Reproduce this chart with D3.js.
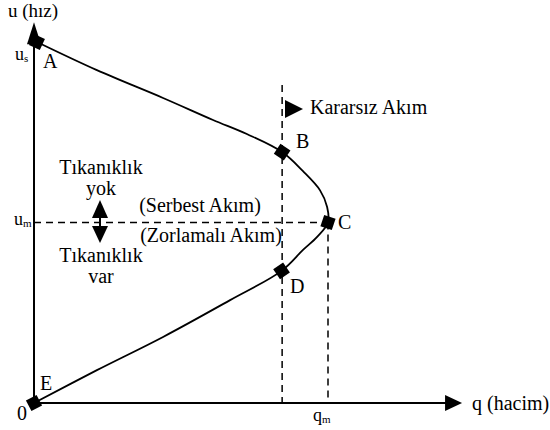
<!DOCTYPE html>
<html><head><meta charset="utf-8">
<script src="https://cdn.jsdelivr.net/npm/d3@7"></script>
<style>body{margin:0;background:#fff}svg{display:block}</style>
</head><body>
<script>
// q (hacim) vs u (hız) curve points (q_m = 100, u_s = 100)
const curveQ = [1, 21.4, 43.9, 60.9, 72.4, 84.4, 91.5, 97.3, 99.7, 100, 96.3, 91.5, 84.2, 66.7, 43.9, 21.4, 0];
const curveU = [100, 92.2, 84.5, 78.4, 74.5, 69.5, 64.2, 58.9, 54.3, 50, 46.0, 42.4, 36.6, 28.5, 18.3, 9.1, 0];
// marked points: index into the curve arrays
const pointNames = ["A", "B", "C", "D", "E"];
const pointIdx = [0, 5, 9, 12, 16];
const qMax = 145.6, uMax = 105.5;
const qB = 84.4, qm = 100, um = 50;

const FONT = '"Liberation Serif", "Times New Roman", serif';
const W = 550, H = 430;
const svg = d3.select("body").append("svg").attr("width", W).attr("height", H);
const x = d3.scaleLinear().domain([0, 100]).range([34, 328]);
const y = d3.scaleLinear().domain([0, 100]).range([403, 42]);
const pts = curveQ.map((q, i) => [q, curveU[i]]);
const fs = 20;

// dashed guides
const dash = "7,5";
const dline = (x1, y1, x2, y2) => svg.append("line").attr("x1", x1).attr("y1", y1).attr("x2", x2).attr("y2", y2)
  .attr("stroke", "#000").attr("stroke-width", 1.5).attr("stroke-dasharray", dash);
dline(x(0), y(um), x(qm), y(um));
dline(x(qB), 85, x(qB), y(0));
dline(x(qm), y(um), x(qm), y(0));

// axes
svg.append("line").attr("x1", x(0)).attr("x2", x(0)).attr("y1", y(0)).attr("y2", y(uMax) + 18)
  .attr("stroke", "#000").attr("stroke-width", 2);
svg.append("line").attr("x1", x(0)).attr("x2", x(qMax) - 14).attr("y1", y(0)).attr("y2", y(0))
  .attr("stroke", "#000").attr("stroke-width", 2);
svg.append("path").attr("d", `M${x(0)},${y(uMax)} L${x(0)-7},${y(uMax)+22} L${x(0)+7},${y(uMax)+22} Z`);
svg.append("path").attr("d", `M${x(qMax)},${y(0)} L${x(qMax)-17},${y(0)-8} L${x(qMax)-17},${y(0)+8} Z`);

// curve
const line = d3.line().x(d => x(d[0])).y(d => y(d[1])).curve(d3.curveCatmullRom.alpha(0.5));
svg.append("path").datum(pts).attr("d", line).attr("fill", "none").attr("stroke", "#000").attr("stroke-width", 1.8);

// markers rotated along curve
pointIdx.forEach(i => {
  const a = pts[Math.max(0, i - 1)], b = pts[Math.min(pts.length - 1, i + 1)];
  const ang = Math.atan2(y(b[1]) - y(a[1]), x(b[0]) - x(a[0])) * 180 / Math.PI;
  svg.append("rect").attr("x", -6).attr("y", -6).attr("width", 12).attr("height", 12)
    .attr("transform", `translate(${x(pts[i][0])},${y(pts[i][1])}) rotate(${ang})`);
});

const txt = (t, xx, yy, size, anchor) => svg.append("text").attr("x", xx).attr("y", yy)
  .attr("font-size", size || fs).attr("text-anchor", anchor || "start").attr("fill", "#000")
  .style("font-family", FONT).text(t);

// point labels
const lblPos = [[43, 68], [296, 148], [338, 229], [290, 293], [40, 390]];
pointNames.forEach((n, k) => txt(n, lblPos[k][0], lblPos[k][1]));

// axis labels
txt("u (hız)", 8, 17, 19);
txt("q (hacim)", 472, 410);
txt("0", 17, 420);
const sub = (main, s, xx, yy) => {
  const t = svg.append("text").attr("x", xx).attr("y", yy).attr("font-size", 18).attr("fill", "#000")
    .style("font-family", FONT);
  t.append("tspan").text(main);
  t.append("tspan").attr("font-size", 11).attr("dy", 2).text(s);
};
sub("u", "s", 15, 60);
sub("u", "m", 14, 225);
sub("q", "m", 313, 421);

// Kararsız akım arrow
svg.append("path").attr("d", "M285,100 L303,109 L285,118 Z");
txt("Kararsız Akım", 310, 114);

// double arrow
svg.append("path").attr("d", "M100,200 L108,218 L92,218 Z");
svg.append("path").attr("d", "M100,243 L108,226 L92,226 Z");
svg.append("line").attr("x1", 100).attr("x2", 100).attr("y1", 217).attr("y2", 227).attr("stroke", "#000").attr("stroke-width", 2);

txt("Tıkanıklık", 101, 174, fs, "middle");
txt("yok", 101, 195, fs, "middle");
txt("Tıkanıklık", 101, 262, fs, "middle");
txt("var", 101, 283, fs, "middle");
txt("(Serbest Akım)", 200, 212, fs, "middle");
txt("(Zorlamalı Akım)", 211, 242, fs, "middle");
</script>
</body></html>
